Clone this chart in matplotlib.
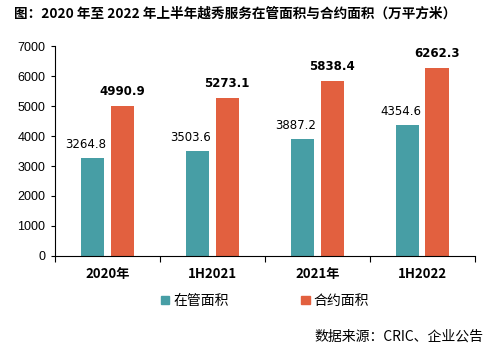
import numpy as np
import matplotlib.pyplot as plt
from matplotlib.patches import Patch

plt.rcParams['font.family'] = ['Noto Sans CJK SC', 'DejaVu Sans']

categories = ['2020年', '1H2021', '2021年', '1H2022']
managed = [3264.8, 3503.6, 3887.2, 4354.6]
contracted = [4990.9, 5273.1, 5838.4, 6262.3]

teal = '#479ea5'
orange = '#e2603f'

fig = plt.figure(figsize=(4.91, 3.57), dpi=100)
ax = fig.add_axes([0.112, 0.283, 0.855, 0.588])

x = np.arange(len(categories))
w = 0.22
off = 0.14
b1 = ax.bar(x - off, managed, w, color=teal)
b2 = ax.bar(x + off, contracted, w, color=orange)

for xi, v in zip(x - off, managed):
    ax.annotate(f'{v:.1f}', (xi, v), xytext=(-5, 5), textcoords='offset points',
                ha='center', va='bottom', fontsize=8.5, family='DejaVu Sans')
for xi, v in zip(x + off, contracted):
    ax.annotate(f'{v:.1f}', (xi, v), xytext=(0, 6), textcoords='offset points',
                ha='center', va='bottom', fontsize=8.5, fontweight='bold',
                family='DejaVu Sans')

ax.set_xlim(-0.5, len(categories) - 0.5)
ax.set_ylim(0, 7000)
ax.set_yticks(range(0, 7001, 1000))
ax.tick_params(axis='y', labelsize=9, length=3, width=0.8, pad=4)
for t in ax.get_yticklabels():
    t.set_family('Liberation Sans')

ax.set_xticks(np.arange(len(categories) + 1) - 0.5, minor=False)
ax.set_xticklabels([])
ax.tick_params(axis='x', length=4, width=0.8)
ax.set_xticks(x, minor=True)
ax.set_xticklabels(categories, minor=True, fontsize=9.5, fontweight='bold')
ax.tick_params(axis='x', which='minor', length=0, pad=8)

for s in ['top', 'right']:
    ax.spines[s].set_visible(False)
for s in ['left', 'bottom']:
    ax.spines[s].set_linewidth(0.8)

fig.text(0.028, 0.962, '图：2020 年至 2022 年上半年越秀服务在管面积与合约面积（万平方米）',
         fontsize=9.8, fontweight='bold', ha='left', va='center')

handles = [Patch(color=teal), Patch(color=orange)]
fig.legend(handles, ['在管面积', '合约面积'], loc='center', bbox_to_anchor=(0.54, 0.157),
           ncol=2, frameon=False, fontsize=10, handlelength=0.6, handleheight=0.6,
           handletextpad=0.3, columnspacing=5.2)

fig.text(0.984, 0.056, '数据来源：CRIC、企业公告', fontsize=10, ha='right', va='center')

fig.savefig('out.png', dpi=100)
